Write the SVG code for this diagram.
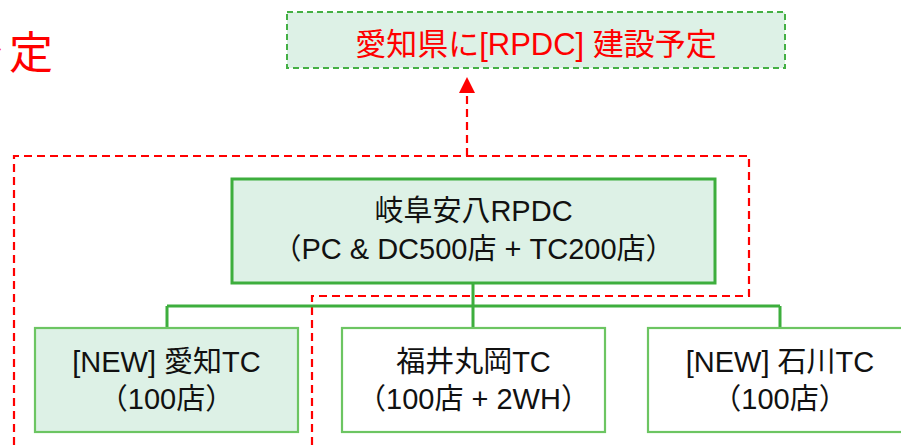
<svg xmlns="http://www.w3.org/2000/svg" width="901" height="445" viewBox="0 0 901 445">
<style>
text{font-family:"Liberation Sans","Noto Sans CJK JP",sans-serif;}
.red{fill:none;stroke:#FF0000;stroke-width:2.2;stroke-dasharray:8 5;}
.lbl{font-size:29px;fill:#111;text-anchor:middle;}
.gbox{fill:#DDF1E6;stroke:#3DAE3D;stroke-width:3;}
.tc{stroke:#6CC562;stroke-width:2.2;}
.conn{fill:none;stroke:#3DAE3D;stroke-width:3;}
</style>
<rect width="901" height="445" fill="#FFFFFF"/>
<text x="-41 9" y="69" font-size="44" fill="#FF0000">予定</text>
<g id="boundary">
<path class="red" d="M14,445 V156 H749 V296 H312 V445"/>
</g>
<g id="connectors">
<path class="red" d="M467,156 V93"/>
<polygon points="467,77 459,93 475,93" fill="#FF0000"/>
<path class="conn" d="M473,283 V306 M167,306 H780 M167,306 V328 M473,306 V328 M780,306 V328"/>
</g>
<g id="plan">
<rect x="287" y="12" width="498" height="56" fill="#DDF1E6" stroke="#44B044" stroke-width="2" stroke-dasharray="6 4"/>
<text x="536" y="55" font-size="31" fill="#FF0000" text-anchor="middle">愛知県に[RPDC] 建設予定</text>
</g>
<g id="gifu">
<rect class="gbox" x="232" y="179" width="483" height="104"/>
<text class="lbl" x="473.5" y="221">岐阜安八RPDC</text>
<text class="lbl" x="473.5" y="259">（PC &amp; DC500店 + TC200店）</text>
</g>
<g id="aichi">
<rect class="tc" x="35" y="328" width="263" height="104" fill="#DDF1E6"/>
<text class="lbl" x="166.5" y="372">[NEW] 愛知TC</text>
<text class="lbl" x="166.5" y="409">（100店）</text>
</g>
<g id="fukui">
<rect class="tc" x="342" y="328" width="263" height="104" fill="#FFFFFF"/>
<text class="lbl" x="473.5" y="372">福井丸岡TC</text>
<text class="lbl" x="473.5" y="409">（100店 + 2WH）</text>
</g>
<g id="ishikawa">
<rect class="tc" x="648" y="328" width="264" height="104" fill="#FFFFFF"/>
<text class="lbl" x="780" y="372">[NEW] 石川TC</text>
<text class="lbl" x="780" y="409">（100店）</text>
</g>
</svg>
